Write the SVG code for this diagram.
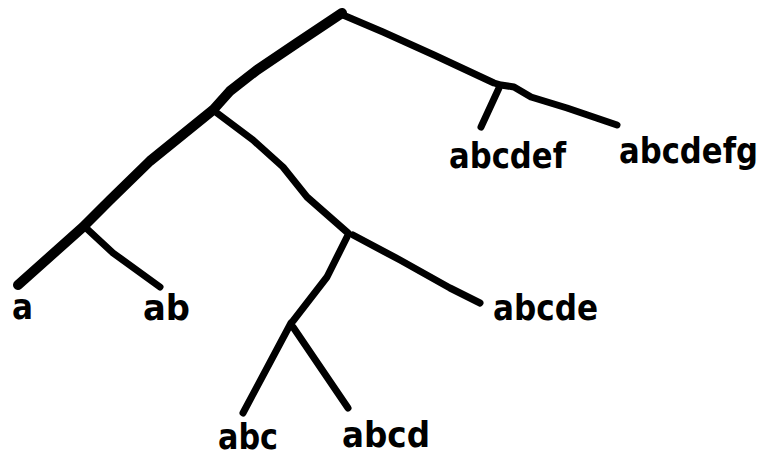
<svg xmlns="http://www.w3.org/2000/svg" width="768" height="457" viewBox="0 0 768 457">
<style>
.e{fill:none;stroke:#000;stroke-width:7;stroke-linecap:round;stroke-linejoin:round}
.t{stroke-width:10}
.l{font-family:"DejaVu Sans Condensed","DejaVu Sans","Liberation Sans",sans-serif;font-weight:bold;font-size:35px;fill:#000}
</style>
<rect width="768" height="457" fill="#fff"/>
<g id="connectors">
<polyline class="e t" points="342,13 297,43 257,70 230,91 213,110 150,161 110,200 83,227 18,285"/>
<polyline class="e" points="343,15 383,32 434,55 494,83 501,85 514,87 531,97 567,108 617,125"/>
<polyline class="e" points="499,88 481,127"/>
<polyline class="e" points="217,113 253,140 283,167 307,197 348,233"/>
<polyline class="e" points="353,235 400,260 450,288 480,303"/>
<polyline class="e" points="347,237 327,277 293,321"/>
<polyline class="e" points="291,323 243,413"/>
<polyline class="e" points="293,327 348,408"/>
<polyline class="e" points="85,227 113,253 160,287"/>
</g>
<g id="n-a"><text class="l" x="12" y="319" textLength="21" lengthAdjust="spacingAndGlyphs">a</text></g>
<g id="n-ab"><text class="l" x="143" y="320" textLength="47" lengthAdjust="spacingAndGlyphs">ab</text></g>
<g id="n-abc"><text class="l" x="218" y="449" textLength="60" lengthAdjust="spacingAndGlyphs">abc</text></g>
<g id="n-abcd"><text class="l" x="342" y="447" textLength="88" lengthAdjust="spacingAndGlyphs">abcd</text></g>
<g id="n-abcde"><text class="l" x="493" y="320" textLength="105" lengthAdjust="spacingAndGlyphs">abcde</text></g>
<g id="n-abcdef"><text class="l" x="449" y="168" textLength="117" lengthAdjust="spacingAndGlyphs">abcdef</text></g>
<g id="n-abcdefg"><text class="l" x="619" y="163" textLength="139" lengthAdjust="spacingAndGlyphs">abcdefg</text></g>
</svg>
